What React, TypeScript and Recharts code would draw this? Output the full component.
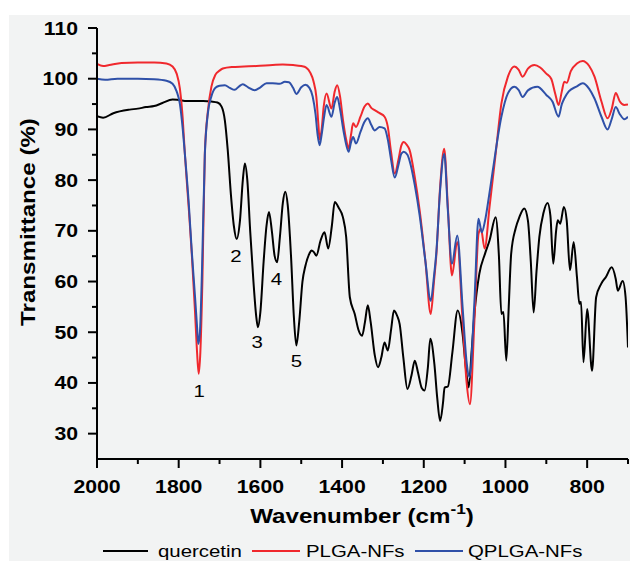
import React from 'react';
import { LineChart, Line, XAxis, YAxis, ReferenceDot } from 'recharts';

// quercetin spectrum (wavenumber, transmittance)
const quercetinWn = [
  2000, 1985, 1960, 1920, 1900, 1880, 1860, 1840, 1815, 1800,
  1780, 1760, 1740, 1720, 1705, 1695, 1687, 1680, 1672, 1665,
  1658, 1650, 1643, 1638, 1632, 1625, 1617, 1610, 1606, 1600,
  1592, 1585, 1579, 1572, 1565, 1559, 1552, 1545, 1539, 1533,
  1525, 1518, 1512, 1505, 1497, 1490, 1480, 1475, 1469, 1463,
  1453, 1443, 1434, 1425, 1418, 1408, 1398, 1390, 1381, 1369,
  1360, 1351, 1344, 1337, 1330, 1320, 1312, 1304, 1296, 1288,
  1280, 1273, 1265, 1259, 1250, 1240, 1230, 1222, 1214, 1205,
  1198, 1190, 1184, 1174, 1167, 1160, 1153, 1149, 1141, 1130,
  1117, 1105, 1097, 1090, 1083, 1076, 1064, 1050, 1039, 1024,
  1016, 1010, 1005, 998, 992, 986, 975, 966, 954, 945,
  938, 931, 924, 917, 907, 897, 890, 883, 876, 872,
  866, 857, 850, 842, 833, 825, 819, 815, 809, 800,
  788, 778, 766, 754, 740, 730, 725, 713, 706, 700,
];
const quercetinT = [
  92.6, 92.3, 93.2, 93.9, 94.1, 94.4, 94.6, 95.2, 95.9, 95.8,
  95.6, 95.6, 95.6, 95.5, 95.3, 94.5, 91.8, 86, 77, 71,
  68.4, 72, 80, 83.3, 80, 70, 60, 53, 51.0, 54,
  64, 71, 73.7, 70, 65, 63.8, 69, 75.5, 77.7, 75,
  65, 53, 47.4, 52, 60, 63, 65.5, 66.1, 65.8, 65.1,
  68, 69.7, 66.5, 71, 75.7, 74.5, 72.7, 68.8, 56.9, 53.6,
  50.5, 49.3, 52, 55.3, 52, 45.5, 43.1, 45, 48.0, 46.4,
  50.5, 54.3, 53.2, 51.6, 45, 38.8, 41.5, 44.4, 42, 39.0,
  38.5, 43, 48.7, 43.7, 37, 32.5, 36, 39.1, 39.3, 46,
  54.3, 49.7, 43, 39.1, 46, 53.6, 61.5, 65.5, 68.1, 72.7,
  65, 53.6, 54, 44.4, 55, 65.5, 70.5, 72.7, 74.4, 72,
  64, 53.9, 62, 68.8, 73.5, 75.5, 73, 63.5, 70, 72.1,
  71.4, 74.7, 72, 62.2, 67.8, 60.9, 55.6, 56, 44.1, 54.6,
  42.4, 56.9, 59.5, 60.9, 62.8, 60.5, 58.2, 60.1, 57, 47,
];

// PLGA-NFs spectrum
const plgaWn = [
  2000, 1985, 1970, 1940, 1900, 1860, 1830, 1815, 1805, 1797,
  1790, 1785, 1775, 1768, 1760, 1755, 1751, 1747, 1742, 1736,
  1728, 1720, 1710, 1700, 1692, 1670, 1640, 1610, 1570, 1545,
  1520, 1500, 1488, 1478, 1470, 1463, 1458, 1455, 1450, 1445,
  1438, 1426, 1418, 1412, 1405, 1398, 1390, 1384, 1378, 1373,
  1366, 1355, 1345, 1337, 1328, 1320, 1308, 1296, 1288, 1280,
  1271, 1262, 1255, 1249, 1242, 1235, 1222, 1210, 1196, 1183,
  1175, 1169, 1160, 1150, 1141, 1131, 1118, 1105, 1095, 1087,
  1076, 1066, 1060, 1051, 1039, 1024, 1010, 994, 978, 968,
  958, 945, 929, 915, 900, 888, 878, 870, 862, 856,
  850, 840, 825, 811, 795, 782, 765, 750, 740, 730,
  720, 709, 700,
];
const plgaT = [
  102.9, 102.5, 102.7, 103.1, 103.2, 103.2, 103.0, 102.4, 101.0, 98,
  92, 85.3, 74, 65.5, 54, 46, 41.8, 46, 60, 85.3,
  94, 98.4, 100.8, 101.6, 102.0, 102.3, 102.4, 102.5, 102.7, 102.8,
  102.7, 102.5, 102.2, 101.2, 99.5, 96.4, 91, 88.0, 90, 94.5,
  97.1, 94.1, 97.5, 98.7, 96.5, 92, 88, 86.2, 89, 91.2,
  90.5, 92.5, 94.5, 95.1, 94.2, 93.8, 93.2, 92.5, 90.5, 85.5,
  81.3, 84, 86.8, 87.5, 87, 86, 80.6, 74, 64, 53.6,
  60, 65.5, 78.6, 86.2, 74.7, 61.2, 67.8, 52.3, 40, 35.8,
  52.3, 69.4, 70.4, 66.5, 74.7, 85.2, 95.1, 100.4, 102.4, 101.8,
  100.4, 102, 102.7, 102.2, 101.0, 100, 97, 94.8, 97.5, 99.4,
  99.2, 101.5, 103, 103.5, 102.5, 100.4, 95.5, 92.2, 94, 97.2,
  95.5, 94.8, 94.9,
];

// QPLGA-NFs spectrum
const qplgaWn = [
  2000, 1980, 1950, 1900, 1860, 1830, 1815, 1805, 1797, 1790,
  1785, 1775, 1768, 1760, 1755, 1752, 1748, 1743, 1736, 1728,
  1720, 1710, 1700, 1687, 1675, 1663, 1652, 1643, 1630, 1614,
  1600, 1585, 1570, 1553, 1540, 1530, 1520, 1512, 1500, 1490,
  1480, 1472, 1465, 1460, 1455, 1450, 1444, 1438, 1426, 1418,
  1412, 1405, 1396, 1384, 1378, 1373, 1366, 1355, 1345, 1337,
  1328, 1320, 1308, 1296, 1288, 1280, 1271, 1262, 1255, 1249,
  1240, 1232, 1222, 1210, 1196, 1183, 1175, 1169, 1160, 1150,
  1141, 1131, 1118, 1105, 1095, 1088, 1076, 1066, 1058, 1050,
  1040, 1031, 1010, 994, 978, 968, 958, 945, 922, 900,
  885, 870, 862, 856, 845, 825, 811, 795, 782, 765,
  750, 740, 730, 720, 709, 700,
];
const qplgaT = [
  100.0, 99.8, 100.0, 100.0, 99.9, 99.6, 99.0, 97.5, 95, 90,
  85.3, 75, 66, 57, 51, 47.7, 50, 62, 85, 93.5,
  96.5, 98.2, 98.6, 98.7, 98.2, 97.8, 98.5, 98.9, 98.3, 97.7,
  98.3, 99.1, 99.1, 99.0, 99.4, 99.3, 98.2, 97.0, 98.3, 98.8,
  98.2, 96.5, 93, 89, 86.9, 89, 92.5, 94.8, 92.5, 95.3,
  96.4, 94, 89.5, 85.6, 87.5, 88.5, 87.2, 89.5, 91.5, 92.2,
  90.8, 89.8, 90.5, 90.2, 88, 84, 80.5, 83, 85.2, 85.6,
  85, 83, 79, 73, 64, 56.2, 61, 66, 78, 85.2,
  74, 63.5, 69.1, 55, 44, 41.1, 56, 72.4, 69.7, 72,
  77, 81.9, 92.5, 97.1, 98.4, 97.8, 96.4, 97.7, 98.4, 96.8,
  95.5, 92.5, 95, 96.1, 97.5, 98.5, 99.1, 98, 96.1, 92.5,
  90.0, 92, 94.4, 93, 92.0, 92.5,
];

const xTicks = [2000, 1900, 1800, 1700, 1600, 1500, 1400, 1300, 1200, 1100, 1000, 900, 800, 700];
const yTicks = [30, 35, 40, 45, 50, 55, 60, 65, 70, 75, 80, 85, 90, 95, 100, 105, 110];

// peak labels
const peakLabels = ['1', '2', '3', '4', '5'];
const peakWn = [1750, 1660, 1608, 1561, 1512];
const peakT = [38.5, 65.1, 48.0, 60.5, 44.4];

const zip = (wn: number[], t: number[]) => wn.map((w, i) => ({ wn: w, t: t[i] }));
const quercetinRows = zip(quercetinWn, quercetinT);
const plgaRows = zip(plgaWn, plgaT);
const qplgaRows = zip(qplgaWn, qplgaT);

const FONT = '"Liberation Sans", Arial, sans-serif';

const SText = ({ x, y, size, bold, anchor = 'start', sx = 1.18, children }: any) => (
  <text
    x={0}
    y={0}
    transform={`translate(${x},${y}) scale(${sx},1)`}
    fontSize={size}
    fontWeight={bold ? 'bold' : 'normal'}
    fontFamily={FONT}
    textAnchor={anchor}
    fill="#000"
  >
    {children}
  </text>
);

const YTick = ({ x, y, payload }: any) => {
  const major = payload.value % 10 === 0;
  return (
    <g>
      <line x1={x} x2={x - (major ? 9 : 5)} y1={y} y2={y} stroke="#000" strokeWidth={2} />
      {major && (
        <SText x={78} y={y + 6.5} size={18} bold anchor="end">
          {payload.value}
        </SText>
      )}
    </g>
  );
};

const XTick = ({ x, y, payload }: any) => {
  const major = payload.value % 200 === 0;
  return (
    <g>
      <line x1={x} x2={x} y1={y} y2={y + (major ? 9 : 5)} stroke="#000" strokeWidth={2} />
      {major && (
        <SText x={x} y={493} size={18} bold anchor="middle">
          {payload.value}
        </SText>
      )}
    </g>
  );
};

const PeakText = (label: string) => (p: any) => (
  <SText x={p.cx} y={p.cy + 6} size={17} anchor="middle" sx={1.2}>
    {label}
  </SText>
);

export default function App() {
  return (
    <div style={{ position: 'absolute', left: 0, top: 0, width: 630, height: 561, background: '#fff', overflow: 'hidden' }}>
      <div style={{ position: 'absolute', left: 9, top: 15, width: 621, height: 546, background: '#f2f3f3' }} />
      <div style={{ position: 'absolute', left: 0, top: 0 }}>
        <LineChart width={630} height={561} margin={{ top: 28, right: 2, left: 0, bottom: 0 }}>
          <XAxis
            type="number"
            dataKey="wn"
            domain={[700, 2000]}
            reversed
            ticks={xTicks}
            interval={0}
            tickSize={0}
            tickMargin={0}
            tickLine={false}
            tick={(p: any) => <XTick {...p} />}
            axisLine={{ stroke: '#000', strokeWidth: 2 }}
            height={102}
            allowDataOverflow
          />
          <YAxis
            type="number"
            domain={[25, 110]}
            ticks={yTicks}
            interval={0}
            tickSize={0}
            tickMargin={0}
            tickLine={false}
            tick={(p: any) => <YTick {...p} />}
            axisLine={{ stroke: '#000', strokeWidth: 2 }}
            width={97}
            allowDataOverflow
          />
          <Line data={quercetinRows} dataKey="t" type="monotone" stroke="#000" strokeWidth={2} dot={false} isAnimationActive={false} />
          <Line data={plgaRows} dataKey="t" type="monotone" stroke="#f0282d" strokeWidth={2} dot={false} isAnimationActive={false} />
          <Line data={qplgaRows} dataKey="t" type="monotone" stroke="#2f50a8" strokeWidth={2} dot={false} isAnimationActive={false} />
          {peakLabels.map((lab, i) => (
            <ReferenceDot key={lab} x={peakWn[i]} y={peakT[i]} r={1} shape={PeakText(lab)} />
          ))}
        </LineChart>
      </div>
      <svg width={630} height={561} style={{ position: 'absolute', left: 0, top: 0, pointerEvents: 'none' }}>
        <g transform="translate(35,222) rotate(-90)">
          <SText x={0} y={0} size={21} bold anchor="middle" sx={1.15}>
            Transmittance (%)
          </SText>
        </g>
        <SText x={362} y={523} size={21} bold anchor="middle" sx={1.15}>
          Wavenumber (cm<tspan fontSize={15} dy={-9}>-1</tspan><tspan dy={9}>)</tspan>
        </SText>
        <line x1={103} x2={148} y1={551} y2={551} stroke="#000" strokeWidth={2} />
        <SText x={158} y={557} size={17} sx={1.2}>quercetin</SText>
        <line x1={252} x2={300} y1={551} y2={551} stroke="#f0282d" strokeWidth={2} />
        <SText x={306} y={557} size={17} sx={1.2}>PLGA-NFs</SText>
        <line x1={415} x2={463} y1={551} y2={551} stroke="#2f50a8" strokeWidth={2} />
        <SText x={468} y={557} size={17} sx={1.2}>QPLGA-NFs</SText>
      </svg>
    </div>
  );
}
